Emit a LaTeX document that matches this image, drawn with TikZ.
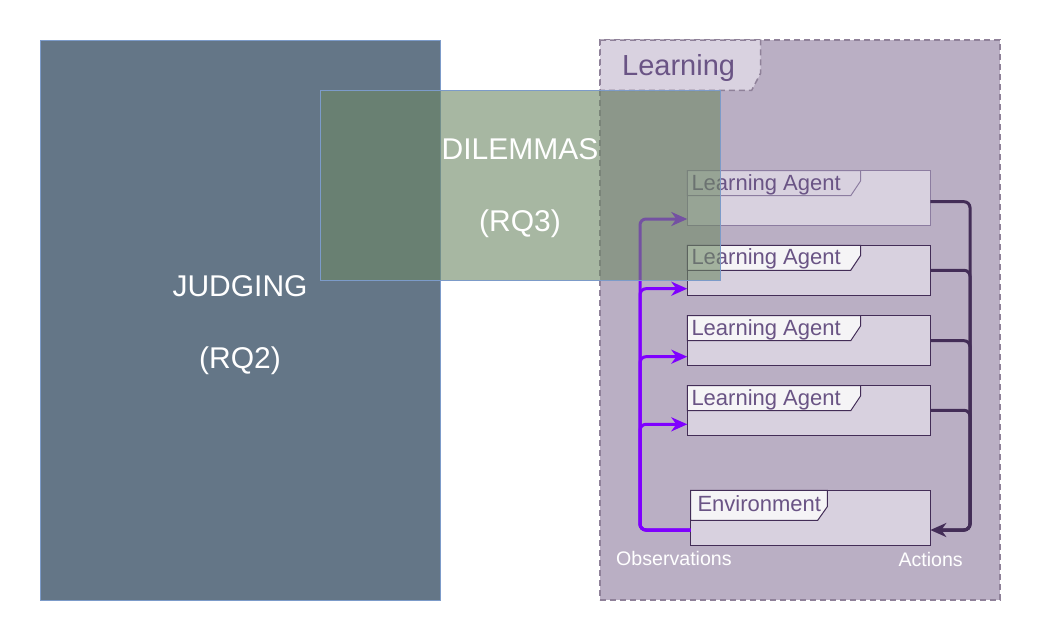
\documentclass[tikz,border=0pt]{standalone}
\usepackage{fontspec}
\setmainfont{Liberation Sans}
\usetikzlibrary{arrows.meta}
\definecolor{judgefill}{HTML}{647687}
\definecolor{blueline}{HTML}{7C9BC9}
\definecolor{dilfill}{HTML}{6D8764}
\definecolor{learnfill}{HTML}{76608A}
\definecolor{learnline}{HTML}{8F8199}
\definecolor{tabfill}{HTML}{D9D2E0}
\definecolor{boxfill}{HTML}{D8D1DF}
\definecolor{labfill}{HTML}{F5F4F6}
\definecolor{darkp}{HTML}{432D57}
\definecolor{txtp}{HTML}{6A5485}
\definecolor{brightp}{HTML}{7F00FF}
\definecolor{fadep}{HTML}{8C7CA0}
\newcommand{\myagent}[6]{% name, x, y, height, box style, tab style
  \node[agentbox, #5, minimum height=#4pt, anchor=north west] (#1) at (#2,#3) {};
  \draw[agenttab, #6] (#1.north west) -- ++(173.4,0) -- ++(0,10) -- ++(-10,15) -- ++(-163.4,0) -- cycle;
  \node[agenttxt] (#1txt) at ([xshift=4pt,yshift=-19.3pt]#1.north west) {Learning Agent};
}
\begin{document}
\begin{tikzpicture}[x=1pt,y=-1pt,
  bigtxt/.style={text=white, font=\fontsize{30}{36}\selectfont, inner sep=0pt, anchor=base},
  smalltxt/.style={text=white, font=\fontsize{19.6}{23}\selectfont, inner sep=0pt, anchor=base west},
  agentbox/.style={draw=darkp, fill=boxfill, line width=1pt, minimum width=243pt, inner sep=0pt, outer sep=0pt},
  agenttab/.style={draw=darkp, fill=labfill, line width=1pt},
  agenttxt/.style={text=txtp, font=\fontsize{22}{26}\selectfont, inner sep=0pt, anchor=base west},
  tip/.style={-{Stealth[length=16pt,width=14pt,inset=5pt]}, sharp corners},
  obs/.style={draw=brightp, line width=3pt, rounded corners=6pt},
  act/.style={draw=darkp, line width=3pt, rounded corners=6pt},
]
\useasboundingbox (0,0) rectangle (1040,630);

% JUDGING
\node[draw=blueline, fill=judgefill, line width=1pt, minimum width=400pt, minimum height=560pt,
      inner sep=0pt, outer sep=0pt, anchor=north west] (judging) at (40,40) {};

% Learning container
\node[draw=learnline, fill=learnfill, fill opacity=0.5, draw opacity=1, line width=1.5pt,
      dash pattern=on 6pt off 4pt, minimum width=400pt, minimum height=560pt,
      inner sep=0pt, outer sep=0pt, anchor=north west] (learning) at (600,40) {};
\draw[draw=learnline, fill=tabfill, line width=1.5pt, dash pattern=on 6pt off 4pt]
  (learning.north west) -- ++(160.7,0) -- ++(0,33) -- ++(-9,17.3) -- ++(-151.7,0) -- cycle;
\node[text=txtp, font=\fontsize{29}{34}\selectfont, inner sep=0pt, anchor=base west] (learningtxt)
  at (622,75.7) {Learning};

% Agents
\myagent{a1}{687.3}{170.7}{54.3}{draw=fadep}{draw=fadep, fill=boxfill}
\myagent{a2}{687.3}{245.3}{50}{}{}
\myagent{a3}{687.3}{315.7}{49.6}{}{}
\myagent{a4}{687.3}{385.7}{49.6}{}{}

% Environment
\node[agentbox, minimum width=239.6pt, minimum height=55pt, anchor=north west] (env) at (690.7,490.3) {};
\draw[agenttab] (env.north west) -- ++(136.6,0) -- ++(0,16.4) -- ++(-9.6,13.6) -- ++(-127,0) -- cycle;
\node[agenttxt] (envtxt) at ([xshift=6.6pt,yshift=-21.4pt]env.north west) {Environment};

% Observations (left)
\foreach \ag/\dy in {a1/6, a2/6.6, a3/8.6, a4/11}{
  \draw[obs] ([yshift=15.3pt]env.south west) -- ++(-50.7,0) |- ([xshift=-10pt,yshift=\dy pt]\ag.south west);
  \draw[obs, tip] ([xshift=-12pt,yshift=\dy pt]\ag.south west) -- ([yshift=\dy pt]\ag.south west);
}

% Actions (right)
\foreach \ag/\dy in {a1/31, a2/25, a3/25, a4/24.6}{
  \draw[act] ([yshift=-\dy pt]\ag.north east) -- ++(39.7,0) |- ([xshift=10pt,yshift=15.3pt]env.south east);
}
\draw[act, tip] ([xshift=12pt,yshift=15.3pt]env.south east) -- ([yshift=15.3pt]env.south east);

% DILEMMAS
\node[draw=blueline, fill=dilfill, fill opacity=0.6, draw opacity=1, line width=1pt,
      minimum width=400pt, minimum height=189.3pt, inner sep=0pt, outer sep=0pt,
      anchor=north west] (dilemmas) at (320,90.7) {};

% Texts
\node[bigtxt] (judgingtxt) at (240,296) {JUDGING};
\node[bigtxt] (rq2) at (240,368) {(RQ2)};
\node[bigtxt] (dilemmastxt) at (520,159) {DILEMMAS};
\node[bigtxt] (rq3) at (520,231.7) {(RQ3)};
\node[smalltxt] (obstxt) at (616,565.7) {Observations};
\node[smalltxt] (acttxt) at (898.3,566.7) {Actions};
\end{tikzpicture}
\end{document}
